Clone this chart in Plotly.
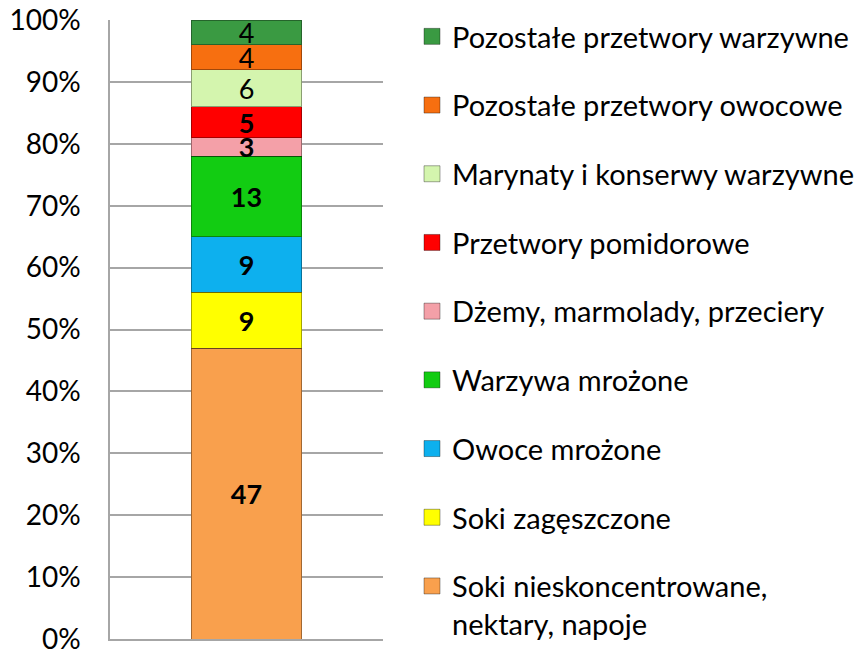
import plotly.graph_objects as go

categories = [
    "Soki nieskoncentrowane,<br>nektary, napoje",
    "Soki zagęszczone",
    "Owoce mrożone",
    "Warzywa mrożone",
    "Dżemy, marmolady, przeciery",
    "Przetwory pomidorowe",
    "Marynaty i konserwy warzywne",
    "Pozostałe przetwory owocowe",
    "Pozostałe przetwory warzywne",
]
values = [47, 9, 9, 13, 3, 5, 6, 4, 4]
colors = ["#F9A04D", "#FFFF00", "#0DB0EE", "#12CC12", "#F4A0A8",
          "#FF0000", "#D4F5AE", "#F76F10", "#3A9A42"]
bold = [True, True, True, True, True, True, False, False, False]
x_cat = ["A"]

FONT = "Lato"

fig = go.Figure()
for name, v, c, b in zip(categories, values, colors, bold):
    txt = f"<b>{v}</b>" if b else f"{v}"
    fig.add_trace(go.Bar(
        x=x_cat, y=[v], name=name, showlegend=False,
        marker=dict(color=c, line=dict(color="rgba(0,0,0,0.35)", width=1)),
        text=[txt], textposition="inside", insidetextanchor="middle",
        constraintext="none", textangle=0,
        textfont=dict(family=FONT, size=27, color="black"),
        hoverinfo="skip",
    ))

# legend entries (square markers), top item = last category
for i, (name, c) in enumerate(zip(categories, colors)):
    fig.add_trace(go.Scatter(
        x=[None], y=[None], mode="markers", name=name, legendgroup=name,
        legendrank=1000 - i,
        marker=dict(symbol="square", size=16, color=c,
                    line=dict(color="rgba(0,0,0,0.35)", width=1)),
        hoverinfo="skip",
    ))

fig.update_layout(
    width=867, height=650,
    barmode="stack", bargap=0.597,
    paper_bgcolor="white", plot_bgcolor="white",
    margin=dict(l=110, r=484, t=20, b=11, autoexpand=False),
    font=dict(family=FONT, size=28, color="black"),
    showlegend=True,
    legend=dict(
        traceorder="grouped", tracegroupgap=28,
        xref="container", yref="container",
        x=412/867, xanchor="left", y=1 - 11/650, yanchor="top",
        font=dict(family=FONT, size=29, color="black"),
        valign="top", itemwidth=30, itemsizing="trace",
        bgcolor="rgba(0,0,0,0)", maxheight=1,
    ),
    yaxis=dict(
        range=[0, 100], dtick=10, ticksuffix="%",
        showgrid=True, gridcolor="#A6A6A6", gridwidth=1.5,
        showline=True, linecolor="#A6A6A6", linewidth=1.5,
        zeroline=False, ticks="", ticklen=0, ticklabelstandoff=22,
        ticklabeloverflow="allow",
        tickfont=dict(family=FONT, size=28, color="black"),
    ),
    xaxis=dict(type="category", showticklabels=False, showline=True,
               linecolor="#A6A6A6", linewidth=1.5,
               showgrid=False, zeroline=False),
)

fig.write_html("out.html", config={"displayModeBar": False},
               post_script="document.body.style.margin='0';")
